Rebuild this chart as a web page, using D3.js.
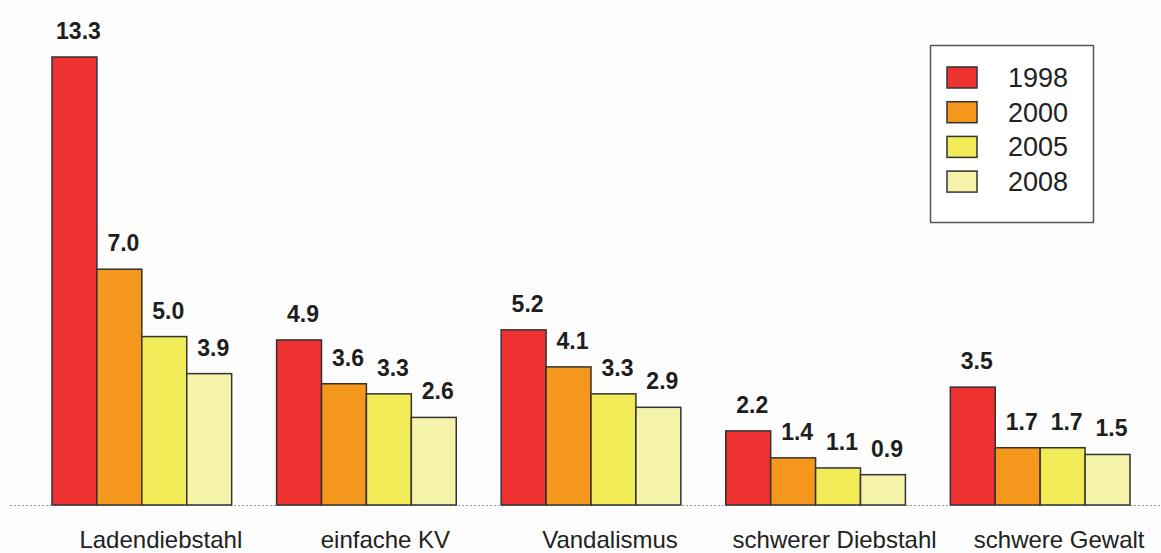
<!DOCTYPE html>
<html>
<head>
<meta charset="utf-8">
<script src="https://cdn.jsdelivr.net/npm/d3@7"></script>
<style>
  html, body { margin: 0; padding: 0; background: #fff; }
  svg { display: block; font-family: "Liberation Sans", Arial, sans-serif; }
</style>
</head>
<body>
<svg id="chart" width="1161" height="553"></svg>
<script>
const categories = ["Ladendiebstahl", "einfache KV", "Vandalismus", "schwerer Diebstahl", "schwere Gewalt"];
const years = ["1998", "2000", "2005", "2008"];
const values1998 = [13.3, 4.9, 5.2, 2.2, 3.5];
const values2000 = [7.0, 3.6, 4.1, 1.4, 1.7];
const values2005 = [5.0, 3.3, 3.3, 1.1, 1.7];
const values2008 = [3.9, 2.6, 2.9, 0.9, 1.5];
const colors = ["#ee3131", "#f5971c", "#f2eb58", "#f5f3aa"];

const series = [values1998, values2000, values2005, values2008];

const svg = d3.select("#chart");
svg.append("rect").attr("width", 1161).attr("height", 553).attr("fill", "#fdfdfd");

const x0 = d3.scaleBand().domain(categories).range([52, 1130]).paddingInner(0.2).paddingOuter(0);
const x1 = d3.scaleBand().domain(years).range([0, x0.bandwidth()]).padding(0);
const y = d3.scaleLinear().domain([0, 13.3]).range([505, 57]);
const color = d3.scaleOrdinal().domain(years).range(colors);

// dotted baseline
svg.append("line")
  .attr("x1", 10).attr("x2", 1160)
  .attr("y1", y(0) + 0.5).attr("y2", y(0) + 0.5)
  .attr("stroke", "#999").attr("stroke-width", 1)
  .attr("stroke-dasharray", "2,2");

const rows = categories.map((c, i) => ({
  cat: c,
  vals: years.map((yr, j) => ({ year: yr, value: series[j][i] }))
}));

const groups = svg.selectAll("g.grp")
  .data(rows)
  .enter()
  .append("g")
  .attr("class", "grp")
  .attr("transform", d => `translate(${x0(d.cat)},0)`);

groups.selectAll("rect")
  .data(d => d.vals)
  .enter()
  .append("rect")
  .attr("x", d => x1(d.year))
  .attr("y", d => y(d.value))
  .attr("width", x1.bandwidth())
  .attr("height", d => y(0) - y(d.value))
  .attr("fill", d => color(d.year))
  .attr("stroke", "#333")
  .attr("stroke-width", 1.5);

groups.selectAll("text.val")
  .data(d => d.vals)
  .enter()
  .append("text")
  .attr("class", "val")
  .attr("x", d => x1(d.year) + x1.bandwidth() / 2 + 4)
  .attr("y", d => y(d.value) - 18)
  .attr("text-anchor", "middle")
  .attr("font-size", 23)
  .attr("font-weight", "bold")
  .attr("fill", "#1e1e1e")
  .text(d => d.value.toFixed(1));

// category labels
svg.selectAll("text.cat")
  .data(categories)
  .enter()
  .append("text")
  .attr("class", "cat")
  .attr("x", d => x0(d) + x0.bandwidth() / 2 + 19)
  .attr("y", 548)
  .attr("text-anchor", "middle")
  .attr("font-size", 24)
  .attr("fill", "#222")
  .text(d => d);

// legend
const legend = svg.append("g").attr("transform", "translate(930,45)");
legend.append("rect")
  .attr("x", 0.5).attr("y", 0.5)
  .attr("width", 163).attr("height", 177)
  .attr("fill", "#fff")
  .attr("stroke", "#555").attr("stroke-width", 1.5);

const li = legend.selectAll("g.item")
  .data(years)
  .enter()
  .append("g")
  .attr("class", "item")
  .attr("transform", (d, i) => `translate(0,${22 + i * 34.7})`);

li.append("rect")
  .attr("x", 17).attr("y", 0)
  .attr("width", 30).attr("height", 21)
  .attr("fill", d => color(d))
  .attr("stroke", "#333").attr("stroke-width", 1.5);

li.append("text")
  .attr("x", 78).attr("y", 20)
  .attr("font-size", 27)
  .attr("fill", "#222")
  .text(d => d);
</script>
</body>
</html>
